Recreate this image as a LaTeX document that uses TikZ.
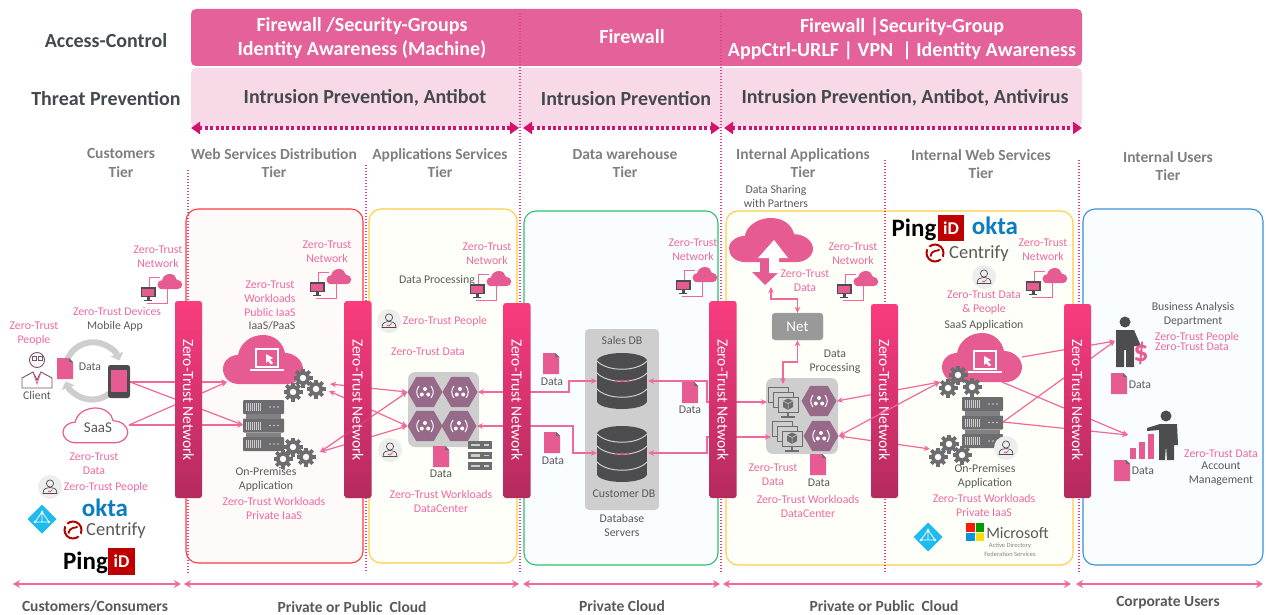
\documentclass[tikz,border=0pt]{standalone}
\usepackage{fontspec}
\setmainfont{Carlito}
\usepackage{xcolor}
\usetikzlibrary{shapes.geometric,arrows.meta,positioning}
\definecolor{ztband}{HTML}{E56199}
\definecolor{ztlight}{HTML}{F8D9E7}
\definecolor{ztdots}{HTML}{D6116B}
\definecolor{ztpink}{HTML}{EC6AA0}
\definecolor{ztline}{HTML}{F0689C}
\definecolor{ztcloud}{HTML}{E75B93}
\definecolor{ztbartop}{HTML}{F93C7E}
\definecolor{ztbarbot}{HTML}{B42A5E}
\definecolor{ztgray}{HTML}{595959}
\definecolor{ztdark}{HTML}{4D4D4F}
\definecolor{ztmid}{HTML}{6D6D6F}
\definecolor{hubgray}{HTML}{CECECE}
\definecolor{hexcol}{HTML}{966A88}
\definecolor{tiergray}{HTML}{7F7F7F}
\definecolor{headdark}{HTML}{44494F}
\definecolor{boxred}{HTML}{FF3B3B}
\definecolor{boxyellow}{HTML}{FFCC44}
\definecolor{boxgreen}{HTML}{2DC06A}
\definecolor{boxblue}{HTML}{3B8FD5}
\definecolor{azurecol}{HTML}{1EBBEE}
\definecolor{oktablue}{HTML}{0A7CC1}
\begin{document}
\begin{tikzpicture}[x=1pt, y=-1pt,
    band/.style={rectangle, rounded corners=5pt, inner sep=0, minimum width=891, text=white},
    headtxt/.style={align=center, font=\fontsize{20}{24}\selectfont\bfseries, text=white, inner sep=0},
    threattxt/.style={align=center, font=\fontsize{20}{24}\selectfont\bfseries, text=headdark, inner sep=0},
    tiertxt/.style={align=center, font=\fontsize{15.5}{18.5}\selectfont\bfseries, text=tiergray, inner sep=0},
    cloudtxt/.style={align=center, font=\fontsize{15.5}{18}\selectfont\bfseries, text=ztgray, inner sep=0},
    zt/.style={align=center, font=\fontsize{11.8}{14}\selectfont, text=ztpink, inner sep=0},
    plain/.style={align=center, font=\fontsize{11.8}{14}\selectfont, text=ztgray, inner sep=0},
    tierbox/.style={rectangle, rounded corners=12pt, line width=1.1pt, inner sep=0},
    hub/.style={rectangle, rounded corners=7pt, fill=hubgray, inner sep=0},
    hexa/.style={regular polygon, regular polygon sides=6, fill=hexcol, minimum size=35, inner sep=0},
    barbox/.style={rectangle, rounded corners=2.5pt, top color=ztbartop, bottom color=ztbarbot, minimum width=27, inner sep=0},
    bartxt/.style={rotate=-90, text=white, font=\fontsize{15.5}{16}\selectfont, inner sep=0},
    arrow/.style={-{Stealth[length=6pt,width=5.5pt]}, line width=1.2pt, ztline},
    dblarrow/.style={{Stealth[length=6pt,width=5.5pt]}-{Stealth[length=6pt,width=5.5pt]}, line width=1.2pt, ztline},
    dotarrow/.style={{Triangle[length=9pt,width=12pt]}-{Triangle[length=9pt,width=12pt]}, line width=3.3pt, ztdots, dash pattern=on 3pt off 2.4pt},
    spanarrow/.style={{Stealth[length=7pt,width=8pt]}-{Stealth[length=7pt,width=8pt]}, line width=1.3pt, ztline},
    tierline/.style={line width=1.2pt, ztdots!80, dash pattern=on 1.3pt off 1.7pt},
    pics/puff/.style={code={
        \path[#1] (16,49) .. controls (5,49) and (0,41) .. (0,34) .. controls (0,26) and (7,20) .. (15,20)
          .. controls (17,8) and (28,0) .. (40,0) .. controls (52,0) and (60,8) .. (62,18)
          .. controls (72,18) and (80,26) .. (80,34) .. controls (80,43) and (72,49) .. (64,49) -- cycle;
    }},
    pics/netlink/.style={code={
        \draw[ztline, line width=.8pt] (1,-6) -- (1,-16) -- (12,-16);
        \draw[ztline, line width=.8pt] (19,-4) -- (19,10) -- (-1,10);
        \pic[scale=.31] at (9.5,-19) {puff={fill=ztcloud}};
        \fill[ztdark] (-7.5,-6) rectangle (7.5,4);
        \fill[ztcloud] (-6,-4.5) rectangle (6,2.5);
        \fill[ztdark] (-1.5,4) rectangle (1.5,6.5);
        \fill[ztdark] (-4,6.5) rectangle (4,7.5);
    }},
    pics/docu/.style={code={
        \fill[ztcloud] (0,0) -- (12,0) -- (16,4) -- (16,21) -- (0,21) -- cycle;
        \fill[ztmid] (12,0) -- (16,4) -- (12,4) -- cycle;
    }},
    pics/gear/.style={code={
        \fill[ztmid] (0,0) circle (7);
        \foreach \a in {0,45,...,315} {\fill[ztmid, rotate=\a] (-1.8,-9.5) rectangle (1.8,0);}
        \fill[white] (0,0) circle (3.2);
    }},
    pics/rack/.style={code={
        \foreach \r in {0,1,2} {
          \fill[ztmid, rounded corners=1pt] (0,{\r*18.5}) rectangle (41,{\r*18.5+14});
          \foreach \t in {3,5,...,17} {\draw[hubgray, line width=.6pt] (\t,{\r*18.5+3}) -- (\t,{\r*18.5+11});}
          \foreach \t in {27,31,35} {\fill[hubgray] (\t,{\r*18.5+7}) circle (.9);}
        }
        \fill[ztdark!70] (3,14) rectangle (38,18.5);
        \fill[ztdark!70] (3,32.5) rectangle (38,37);
    }},
    pics/miniRack/.style={code={
        \foreach \r in {0,1,2} {
          \fill[ztmid] (0,{\r*10.5}) rectangle (24,{\r*10.5+7.5});
          \fill[hubgray] (3,{\r*10.5+2.5}) rectangle (12,{\r*10.5+5});
          \fill[hubgray] (16,{\r*10.5+3}) rectangle (21,{\r*10.5+4.5});
        }
    }},
    pics/hexmark/.style={code={
        \draw[white, line width=1pt] (-6,-6) .. controls (-9,-2) and (-9,2) .. (-6,6);
        \draw[white, line width=1pt] (6,-6) .. controls (9,-2) and (9,2) .. (6,6);
        \fill[white] (0,-3) circle (2) (-3.2,2.5) circle (2) (3.2,2.5) circle (2);
    }},
    pics/dbstack/.style={code={
        \fill[ztdark] (-25,-20) rectangle (25,20);
        \fill[ztdark] (0,-20) ellipse (25pt and 8pt);
        \fill[ztdark] (0,20) ellipse (25pt and 8pt);
        \draw[hubgray, line width=1pt] (-25,-20) .. controls (-15,-9) and (15,-9) .. (25,-20);
        \draw[hubgray, line width=1pt] (-25,-8) .. controls (-15,3) and (15,3) .. (25,-8);
        \draw[hubgray, line width=1pt] (-25,8) .. controls (-15,19) and (15,19) .. (25,8);
        \fill[ztbartop] (-6,0) circle (1.5) (0,0) circle (1.5) (6,0) circle (1.5);
    }},
    pics/zpeople/.style={code={
        \fill[black!7] (0,0) circle (12);
        \draw[ztdark, line width=.7pt] (0,-3.5) circle (3.6);
        \draw[ztdark, line width=.7pt] (-7,6.5) .. controls (-7,1) and (-3,.5) .. (0,.5) .. controls (3,.5) and (7,1) .. (7,6.5) -- cycle;
        \draw[ztbartop, line width=.7pt] (-2,4) -- (0,5) -- (2.5,2.5);
    }},
    pics/laptop/.style={code={
        \draw[white, line width=1.2pt] (-11,-11) rectangle (11,7);
        \fill[white] (-17,9) rectangle (17,11);
        \fill[white] (-1,-6) -- (6,-2) -- (3,-.5) -- (6,3) -- (4,4.5) -- (1,1) -- (-1,3) -- cycle;
    }},
    pics/monitorstack/.style={code={
        \foreach \d in {0,5,10} {
          \draw[ztmid, fill=hubgray, line width=.8pt] (\d,\d-3) rectangle (\d+20,\d+12);
        }
        \fill[ztmid] (20,8.5) -- (25,11) -- (25,17) -- (20,20) -- (15,17) -- (15,11) -- cycle;
        \draw[hubgray, line width=.5pt] (15,11) -- (20,13.5) -- (25,11) (20,13.5) -- (20,20);
        \draw[ztmid, line width=2pt] (20,22) -- (20,26);
        \draw[ztmid, line width=1.2pt] (13,27) -- (27,27);
    }},
    pics/azurediamond/.style={code={
        \fill[azurecol] (0,-14.5) -- (14.5,0) -- (0,14.5) -- (-14.5,0) -- cycle;
        \draw[white, line width=.8pt] (0,-7) -- (-7,3) -- (7,3) -- cycle (0,-7) -- (0,3);
        \fill[white] (0,-7) circle (1.4) (-7,3) circle (1.4) (7,3) circle (1.4);
    }},
    pics/swirl/.style={code={
        \draw[red!70!black, line width=2pt] (0,0) circle (8.5);
        \draw[white, line width=3pt] (-8,-6) -- (8,6);
        \draw[red!70!black, line width=1.8pt] (-4.5,3.5) .. controls (-3,-4.5) and (3,-1) .. (4.5,-3.5);
    }}
]
\useasboundingbox (0,0) rectangle (1266,615);

\node[tierbox, draw=boxred, fill=red!2, minimum width=177, minimum height=354] (webbox) at (274.5,386) {};
\node[tierbox, draw=boxyellow, fill=yellow!2, minimum width=148, minimum height=354] (appbox) at (443,386) {};
\node[tierbox, draw=boxgreen, fill=cyan!2, minimum width=194, minimum height=354] (databox) at (621,388) {};
\node[tierbox, draw=boxyellow, fill=yellow!2, minimum width=347, minimum height=354] (intbox) at (899.5,388) {};
\node[tierbox, draw=boxblue, fill=cyan!2, minimum width=180, minimum height=356] (userbox) at (1173,387) {};

\node[band, fill=ztband, minimum height=57] (access) at (636.5,37.5) {};
\node[band, fill=ztlight, minimum height=59] (threat) at (636.5,97.5) {};

\foreach \x/\ya/\yb in {188/170/573, 366/165/573, 520/13/573, 721/13/573, 885/160/573, 1079/160/573} {
  \draw[tierline] (\x,\ya) -- (\x,\yb);
}

\node[threattxt] (acclbl) at (106,41) {Access-Control};
\node[threattxt] (thrlbl) at (106,99) {Threat Prevention};
\node[headtxt] (fw1) at (362,38) {Firewall /Security-Groups\\Identity Awareness (Machine)};
\node[headtxt] (fw2) at (632,37) {Firewall};
\node[headtxt] (fw3) at (902,39) {Firewall |Security-Group\\AppCtrl-URLF | VPN\ \ | Identity Awareness};
\node[threattxt] (ips1) at (365,98) {Intrusion Prevention, Antibot};
\node[threattxt] (ips2) at (626,99) {Intrusion Prevention};
\node[threattxt] (ips3) at (905,98) {Intrusion Prevention, Antibot, Antivirus};

\coordinate (z1a) at (191,128);
\coordinate (z1b) at (519,128);
\coordinate (z2a) at (523,128);
\coordinate (z2b) at (720,128);
\coordinate (z3a) at (724,128);
\coordinate (z3b) at (1082,128);
\draw[dotarrow] (z1a) -- (z1b);
\draw[dotarrow] (z2a) -- (z2b);
\draw[dotarrow] (z3a) -- (z3b);

\node[tiertxt] (tier1) at (121,163) {Customers\\Tier};
\node[tiertxt] (tier2) at (274,163) {Web Services Distribution\\Tier};
\node[tiertxt] (tier3) at (440,163) {Applications Services\\Tier};
\node[tiertxt] (tier4) at (625,163) {Data warehouse\\Tier};
\node[tiertxt] (tier5) at (803,163) {Internal Applications\\Tier};
\node[tiertxt] (tier6) at (981,164) {Internal Web Services\\Tier};
\node[tiertxt] (tier7) at (1168,166) {Internal Users\\Tier};

\node[hub, minimum width=71, minimum height=75] (hub1) at (443.5,409.5) {};
\node[hub, minimum width=74, minimum height=181, rounded corners=4pt] (dbhub) at (622,419.5) {};
\node[hub, minimum width=72, minimum height=76] (hub2) at (802,416) {};

\node[hexa] (hx1) at (425,392) {};
\node[hexa] (hx2) at (460,392) {};
\node[hexa] (hx3) at (425,426) {};
\node[hexa] (hx4) at (459,426) {};
\node[hexa] (hx5) at (819,401) {};
\node[hexa] (hx6) at (821,436) {};

\coordinate (phoneR) at (130,382);
\coordinate (saasR) at (129,425);
\coordinate (cloudL) at (227,382);
\coordinate (rackL) at (243,425);
\draw[arrow] (phoneR) -- (cloudL);
\draw[arrow] (phoneR) -- (rackL);
\draw[arrow] (saasR) -- (cloudL);
\draw[arrow] (saasR) -- (rackL);

\coordinate (g1a) at (330,384);
\coordinate (g1b) at (329,391);
\coordinate (g2a) at (320,452);
\draw[dblarrow] (g1a) -- (hx1.west);
\draw[dblarrow] (g1b) -- (hx3.west);
\draw[dblarrow] (g2a) -- (hx3.west);
\draw[dblarrow] (g2a) -- (hx1.west);

\coordinate (sales) at (597,381);
\coordinate (custm) at (597,453);
\coordinate (salesR) at (648,381);
\coordinate (custmR) at (648,453);
\coordinate (stackA) at (767,402);
\coordinate (stackB) at (771,437);
\draw[dblarrow] (hx2.east) -- (569,392) -- (569,381) -- (sales);
\draw[dblarrow] (hx4.east) -- (573,426) -- (573,453) -- (custm);
\draw[dblarrow] (salesR) -- (707,381) -- (707,402) -- (stackA);
\draw[dblarrow] (custmR) -- (707,453) -- (707,437) -- (stackB);

\coordinate (g3) at (940,382);
\coordinate (g4) at (930,449);
\draw[dblarrow] (hx5.east) -- (g3);
\draw[dblarrow] (hx6.east) -- (g4);

\coordinate (cloudA) at (1022,357);
\coordinate (cloudB) at (1002,382);
\coordinate (rackR) at (1003,422);
\coordinate (boss) at (1115,341);
\coordinate (chart) at (1128,435);
\draw[arrow] (cloudA) -- (boss);
\draw[arrow] (cloudB) -- (chart);
\draw[arrow] (rackR) -- (boss);
\draw[arrow] (rackR) -- (chart);

\foreach \n/\x/\y/\h in {1/188.5/399.5/197, 2/358/399.5/197, 3/517/400.5/195, 4/723/399.5/197, 5/884.5/401/194, 6/1077.5/401/194} {
  \node[barbox, minimum height=\h] (bar\n) at (\x,\y) {};
  \node[bartxt] (bartxt\n) at (\x,400) {Zero-Trust Network};
}

\draw[dblarrow] (hx6.east) -- (g3);
\draw[ztline, line width=1pt, opacity=.3] (g2a) -- (hx1.west);

\coordinate (upcloud) at (771,287);
\coordinate (stackTop) at (783,384);
\node[rectangle, rounded corners=3pt, fill=black!40, draw=black!30, minimum width=51, minimum height=27, text=white, font=\fontsize{15}{16}\selectfont, inner sep=0] (net) at (797.5,326.5) {Net};
\draw[dblarrow] (net.north) -- (797.5,299) -- (771,299) -- (upcloud);
\draw[dblarrow] (net.south) -- (797.5,362) -- (783,362) -- (stackTop);

\foreach \h in {hx1,hx2,hx3,hx4,hx5,hx6} {\pic at (\h) {hexmark};}
\pic at (622,381) {dbstack};
\pic at (622,454) {dbstack};
\pic at (768,390) {monitorstack};
\pic at (772,424) {monitorstack};

\foreach \x/\y in {148/293, 317/288, 477/290, 683/286, 844/290, 1033/287} {
  \pic at (\x,\y) {netlink};
}
\pic at (243,400) {rack};
\pic at (962,397) {rack};
\pic at (468,441) {miniRack};

\pic at (223,335) {puff={fill=ztcloud}};
\pic at (267,360) {laptop};
\pic at (942,333) {puff={fill=ztcloud}};
\pic at (985,362) {laptop};

\draw[hubgray, line width=6pt, -{Triangle[length=7pt,width=13pt]}] (66,363) arc (165:20:28pt);
\draw[hubgray, line width=6pt, -{Triangle[length=7pt,width=13pt]}] (110,393) arc (-50:-160:28pt);
\pic[xscale=.81, yscale=.71] at (63,408) {puff={draw=ztcloud, fill=white, line width=1.2pt}};
\pic[xscale=1.05, yscale=.9] at (729,218) {puff={fill=ztcloud}};
\fill[ztcloud] (765,285) -- (752,272) -- (760,272) -- (760,255) -- (771,255) -- (771,272) -- (779,272) -- cycle;
\fill[white] (774,240) -- (788,258) -- (779,258) -- (779,273) -- (769,273) -- (769,258) -- (758,258) -- cycle;

\foreach \x/\y in {303/378, 293/392, 316/389, 293/447, 283/459, 306/457, 958/375, 948/388, 972/387, 949/444, 938/457, 962/455} {
  \pic at (\x,\y) {gear};
}

\foreach \x/\y in {57/358, 543/353, 544/432, 682/382, 810/454, 1111/373, 1114/460, 433/446} {
  \pic at (\x,\y) {docu};
}

\foreach \x/\y in {50/487, 389/321, 390/450, 984/277, 1006/448} {
  \pic at (\x,\y) {zpeople};
}

\node[rectangle, rounded corners=2.5pt, fill=ztdark, minimum width=22, minimum height=33, inner sep=0] (phone) at (119,381.5) {};
\fill[ztcloud] (111,370) rectangle (127,392);

\draw[ztdark!70!ztcloud, line width=.9pt, fill=white] (22,388) -- (22,378) -- (33,372) -- (37,380) -- (41,372) -- (52,378) -- (52,388) -- cycle;
\draw[ztdark!70!ztcloud, line width=.9pt, fill=white] (37,360) circle (7.5);
\draw[ztdark!70!ztcloud, line width=.8pt] (32,356) rectangle (36,360) (38,356) rectangle (42,360);
\draw[ztcloud, line width=.7pt] (33,372) -- (37,384) -- (41,372);

\node[zt] (zp1) at (34,334) {Zero-Trust\\People};
\node[plain] (client) at (37,395) {Client};
\node[plain] (data1) at (90,367) {Data};
\node[zt] (zd1) at (117,311) {Zero-Trust Devices};
\node[plain] (mobile) at (115,326) {Mobile App};
\node[zt] (zn1) at (158,257) {Zero-Trust\\Network};
\node[plain, font=\fontsize{15}{16}\selectfont] (saas) at (98,428) {SaaS};
\node[zt] (zd2) at (94,464) {Zero-Trust\\Data};
\node[zt] (zp2) at (106,487) {Zero-Trust People};

\node[zt] (zn2) at (327,252) {Zero-Trust\\Network};
\node[zt] (zw1) at (270,299) {Zero-Trust\\Workloads\\Public IaaS};
\node[plain] (iaas) at (272,326) {IaaS/PaaS};
\node[plain] (onprem1) at (266,479) {On-Premises\\Application};
\node[zt] (zw2) at (274,508) {Zero-Trust Workloads\\Private IaaS};

\node[zt] (zn3) at (487,254) {Zero-Trust\\Network};
\node[plain] (proc1) at (437,280) {Data Processing};
\node[zt] (zp3) at (445,321) {Zero-Trust People};
\node[zt] (zd3) at (428,352) {Zero-Trust Data};
\node[plain] (data2) at (441,474) {Data};
\node[zt] (zw3) at (441,501) {Zero-Trust Workloads\\DataCenter};

\node[zt] (zn4) at (693,250) {Zero-Trust\\Network};
\node[plain] (salesdb) at (622,340) {Sales DB};
\node[plain] (custdb) at (624,494) {Customer DB};
\node[plain] (dbserv) at (622,525) {Database\\Servers};
\node[plain] (data3) at (552,382) {Data};
\node[plain] (data4) at (553,461) {Data};
\node[plain] (data5) at (690,410) {Data};

\node[plain] (share) at (776,196.5) {Data Sharing\\with Partners};
\node[zt] (zd4) at (805,281) {Zero-Trust\\Data};
\node[zt] (zn5) at (853,254) {Zero-Trust\\Network};
\node[plain] (proc2) at (835,362) {Data\\Processing};
\node[zt] (zd5) at (773,475) {Zero-Trust\\Data};
\node[plain] (data6) at (819,483) {Data};
\node[zt] (zw4) at (808,506) {Zero-Trust Workloads\\DataCenter};

\node[zt] (zn6) at (1043,250) {Zero-Trust\\Network};
\node[zt] (zd6) at (984,303) {Zero-Trust Data\\\& People};
\node[plain] (saasapp) at (984,325) {SaaS Application};
\node[plain] (onprem2) at (985,476) {On-Premises\\Application};
\node[zt] (zw5) at (984,505) {Zero-Trust Workloads\\Private IaaS};

\node[inner sep=0, font=\fontsize{25}{27}\selectfont\bfseries] (ping1) at (914,230) {Ping};
\node[rectangle, fill=red!75!black, minimum width=26, minimum height=26, inner sep=0, text=white, font=\fontsize{18}{20}\selectfont\bfseries] (pingid1) at (951,228) {iD};
\node[inner sep=0, text=oktablue, font=\fontsize{25}{27}\selectfont\bfseries] (okta1) at (995,226) {okta};
\pic at (935,253) {swirl};
\node[inner sep=0, text=ztgray, font=\fontsize{18.5}{20}\selectfont] (centrify1) at (979,254) {Centrify};

\node[inner sep=0, font=\fontsize{25}{27}\selectfont\bfseries] (ping2) at (85.5,563) {Ping};
\node[rectangle, fill=red!75!black, minimum width=27, minimum height=27, inner sep=0, text=white, font=\fontsize{18}{20}\selectfont\bfseries] (pingid2) at (121.5,561.5) {iD};
\node[inner sep=0, text=oktablue, font=\fontsize{25}{27}\selectfont\bfseries] (okta2) at (105,508) {okta};
\pic at (73,530) {swirl};
\node[inner sep=0, text=ztgray, font=\fontsize{18.5}{20}\selectfont] (centrify2) at (116,531) {Centrify};

\pic at (42,519) {azurediamond};
\pic at (928,537) {azurediamond};
\fill[red!80!orange] (966,523) rectangle (974.5,531.5);
\fill[green!60!black] (975.5,523) rectangle (984,531.5);
\fill[cyan!80!blue] (966,532.5) rectangle (974.5,541);
\fill[yellow!80!orange] (975.5,532.5) rectangle (984,541);
\node[inner sep=0, text=ztgray, font=\fontsize{16}{19}\selectfont] (msoft) at (1017.5,533) {Microsoft};
\node[inner sep=0, text=tiergray, font=\fontsize{6.5}{9}\selectfont, align=center] (adfs) at (1010,549.5) {Active Directory\\Federation Services};

\fill[ztdark] (1125,322) circle (5.5);
\fill[ztdark] (1116,330) -- (1134,330) -- (1141,346) -- (1134,346) -- (1134,367) -- (1126,367) -- (1126,350) -- (1124,350) -- (1124,367) -- (1116,367) -- cycle;
\node[inner sep=0, text=ztcloud, font=\fontsize{30}{32}\selectfont\bfseries] (dollar) at (1141,353) {\$};
\fill[ztdark] (1166,416) circle (5.5);
\fill[ztdark] (1147,428) -- (1160,424) -- (1177,424) -- (1178,445) -- (1174,445) -- (1174,460) -- (1167,460) -- (1166,445) -- (1165,460) -- (1159,460) -- (1159,430) -- (1147,431) -- cycle;
\fill[ztcloud] (1130,448) rectangle (1136,459);
\fill[ztcloud] (1139,442) rectangle (1145,459);
\fill[ztcloud] (1148,434) rectangle (1154,459);

\node[plain] (data7) at (1140,385) {Data};
\node[plain] (data8) at (1143,471) {Data};
\node[plain] (bizdept) at (1193,314) {Business Analysis\\Department};
\node[zt] (zp4) at (1197,337) {Zero-Trust People};
\node[zt] (zd7) at (1192,347) {Zero-Trust Data};
\node[zt] (zd8) at (1221,454) {Zero-Trust Data};
\node[plain] (acct) at (1221,474) {Account\\Management};

\coordinate (s1a) at (13,584);
\coordinate (s1b) at (181,584);
\coordinate (s2a) at (184,584);
\coordinate (s2b) at (519,584);
\coordinate (s3a) at (523,584);
\coordinate (s3b) at (720,584);
\coordinate (s4a) at (723,584);
\coordinate (s4b) at (1071,584);
\coordinate (s5a) at (1076,584);
\coordinate (s5b) at (1263,584);
\draw[spanarrow] (s1a) -- (s1b);
\draw[spanarrow] (s2a) -- (s2b);
\draw[spanarrow] (s3a) -- (s3b);
\draw[spanarrow] (s4a) -- (s4b);
\draw[spanarrow] (s5a) -- (s5b);

\node[cloudtxt] (foot1) at (95,606) {Customers/Consumers};
\node[cloudtxt] (foot2) at (352,607) {Private or Public\ \ Cloud};
\node[cloudtxt] (foot3) at (622,606) {Private Cloud};
\node[cloudtxt] (foot4) at (884,606) {Private or Public\ \ Cloud};
\node[cloudtxt] (foot5) at (1168,603) {Corporate Users};
\end{tikzpicture}
\end{document}
